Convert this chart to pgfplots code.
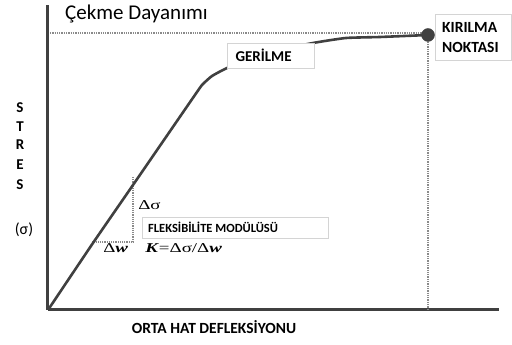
\documentclass[border=0pt]{standalone}
\usepackage{fontspec}
\setmainfont{Carlito}
\newfontfamily\serifgr{Liberation Serif}
\usepackage{pgfplots}
\pgfplotsset{compat=1.18}
\definecolor{dk}{HTML}{404040}
\definecolor{dotc}{HTML}{8A8A8A}
\definecolor{boxc}{HTML}{D4D4D4}
\begin{document}
\begin{tikzpicture}
\begin{axis}[
  scale only axis, width=451pt, height=305pt,
  xmin=0, xmax=451, ymin=0, ymax=305,
  axis x line=bottom, axis y line=left,
  axis line style={-, line width=3pt, draw=dk},
  xtick=\empty, ytick=\empty,
  clip=false,
]
% reference dotted lines
\addplot[dotc, line width=1.3pt, densely dotted] coordinates {(2,277) (380,277)};
\addplot[dotc, line width=1.3pt, densely dotted] coordinates {(380,275) (380,1)};
\addplot[dotc, line width=1.2pt, densely dotted] coordinates {(85,133) (85,68) (44,68)};
% stress curve
\addplot[dk, line width=2.6pt, smooth, tension=0.3] coordinates {
 (0,0) (45,67) (85,125) (149,218) (155,226) (164,234) (179,242)
 (212,256) (265,267) (298,272) (332,273) (380,275)};
\addplot[dk, only marks, mark=*, mark size=6.5pt] coordinates {(380,275)};
% boxes
\draw[boxc, fill=white, line width=0.8pt] (axis cs:179,242) rectangle (axis cs:266,267);
\node[anchor=base west, font=\bfseries\fontsize{15}{15}\selectfont, text=black] at (axis cs:184,248) {GERİLME};
\draw[boxc, fill=white, line width=0.8pt] (axis cs:387,250) rectangle (axis cs:463,296);
\node[anchor=base west, font=\bfseries\fontsize{15.5}{15.5}\selectfont, inner sep=0pt] at (axis cs:394,277) {KIRILMA};
\node[anchor=base west, font=\bfseries\fontsize{15.5}{15.5}\selectfont, inner sep=0pt] at (axis cs:394,257) {NOKTASI};
\draw[boxc, fill=white, line width=0.8pt] (axis cs:94,72) rectangle (axis cs:280,93);
\node[anchor=base west, font=\bfseries\fontsize{12.5}{12.5}\selectfont, inner sep=0pt] at (axis cs:100,77) {FLEKSİBİLİTE MODÜLÜSÜ};
% delta labels
\node[anchor=base west, font=\serifgr\fontsize{13.5}{13.5}\selectfont, inner sep=0pt, xscale=1.4] at (axis cs:90,100) {Δσ};
\node[anchor=base west, font=\serifgr\fontsize{13.5}{13.5}\selectfont, inner sep=0pt, xscale=1.4] at (axis cs:55,57) {Δ\textbf{\textit{w}}};
\node[anchor=base west, font=\serifgr\fontsize{13.5}{13.5}\selectfont, inner sep=0pt, xscale=1.4] at (axis cs:97,57) {\textbf{\textit{K}}=Δσ/Δ\textbf{\textit{w}}};
% title
\node[anchor=base west, font=\fontsize{21}{21}\selectfont, inner sep=0pt] at (axis cs:17,290) {Çekme Dayanımı};
% y label
\node[font=\bfseries\fontsize{15}{15}\selectfont, inner sep=0pt] at (axis cs:-28,202) {S};
\node[font=\bfseries\fontsize{15}{15}\selectfont, inner sep=0pt] at (axis cs:-28,183) {T};
\node[font=\bfseries\fontsize{15}{15}\selectfont, inner sep=0pt] at (axis cs:-28,165) {R};
\node[font=\bfseries\fontsize{15}{15}\selectfont, inner sep=0pt] at (axis cs:-28,145) {E};
\node[font=\bfseries\fontsize{15}{15}\selectfont, inner sep=0pt] at (axis cs:-28,125) {S};
\node[font=\fontsize{16}{16}\selectfont, inner sep=0pt] at (axis cs:-24,80) {(σ)};
% x label
\node[font=\bfseries\fontsize{15.5}{15.5}\selectfont, inner sep=0pt] at (axis cs:166,-17) {ORTA HAT DEFLEKSİYONU};
\end{axis}
\pgfresetboundingbox
\path[use as bounding box] ([shift={(-48pt,-35pt)}]current axis.south west) rectangle ([shift={(13pt,5pt)}]current axis.north east);
\end{tikzpicture}
\end{document}
